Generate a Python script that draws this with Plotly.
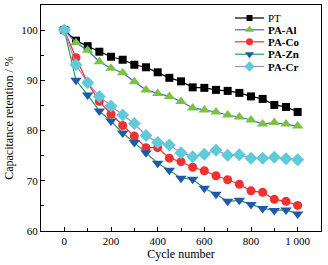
import plotly.graph_objects as go

cycles = [0, 50, 100, 150, 200, 250, 300, 350, 400, 450, 500, 550, 600, 650, 700, 750, 800, 850, 900, 950, 1000]
pt = [100, 97.9, 96.8, 95.7, 94.7, 94.1, 93.1, 92.6, 91.6, 90.5, 89.8, 88.6, 88.5, 88.1, 87.9, 87.5, 86.8, 86.3, 85.1, 84.7, 83.7]
pa_al = [100, 97.5, 96.0, 93.7, 92.4, 91.5, 89.7, 88.1, 87.4, 86.8, 85.8, 84.5, 84.1, 83.7, 83.1, 82.7, 82.1, 81.3, 81.6, 81.3, 80.9]
pa_co = [100, 94.5, 89.5, 85.8, 83.3, 81.0, 78.9, 76.6, 76.6, 74.5, 73.8, 72.7, 72.0, 71.0, 70.2, 69.3, 68.0, 67.7, 66.3, 65.9, 65.1]
pa_zn = [100, 90.0, 87.1, 83.9, 81.9, 79.5, 77.6, 75.6, 73.5, 72.1, 70.5, 70.3, 68.5, 67.3, 65.9, 66.1, 65.3, 64.5, 64.1, 64.2, 63.4]
pa_cr = [100, 93.1, 89.5, 86.8, 84.9, 83.1, 81.4, 79.0, 77.6, 77.1, 75.6, 74.8, 75.3, 76.1, 75.1, 75.2, 74.5, 74.5, 74.7, 74.4, 74.2]

series_names = ["PT", "PA-Al", "PA-Co", "PA-Zn", "PA-Cr"]
x_ticks = [0, 200, 400, 600, 800, 1000]
x_tick_labels = ["0", "200", "400", "600", "800", "1 000"]
y_ticks = [60, 70, 80, 90, 100]

styles = [
    ("black", "black", "square", 8, False),
    ("#2f6fd6", "#7cc242", "triangle-up", 10, True),
    ("#f23030", "#f23030", "circle", 9, True),
    ("#2a9d5c", "#1f5aa8", "triangle-down", 10, True),
    ("#a884d0", "#5fcbd8", "diamond", 10, True),
]
values = [pt, pa_al, pa_co, pa_zn, pa_cr]

fig = go.Figure()
for name, vals, (lc, mc, sym, sz, bold) in zip(series_names, values, styles):
    fig.add_trace(go.Scatter(
        x=cycles, y=vals, name=name, mode="lines+markers", showlegend=False,
        line=dict(color=lc, width=1.2),
        marker=dict(color=mc, symbol=sym, size=sz, line=dict(width=0)),
    ))

# custom compact legend drawn on an overlay axis in pixel-like units
leg_x0, leg_x1, leg_text_x = 235, 264, 266
leg_rows = [18, 29.8, 41.8, 54.2, 66.5]
annotations = []
for name, (lc, mc, sym, sz, bold), ly in zip(series_names, styles, leg_rows):
    fig.add_trace(go.Scatter(
        x=[leg_x0, (leg_x0 + leg_x1) / 2, leg_x1], y=[ly, ly, ly],
        xaxis="x2", yaxis="y2", mode="lines", showlegend=False, hoverinfo="skip",
        line=dict(color=lc, width=1.2),
    ))
    fig.add_trace(go.Scatter(
        x=[(leg_x0 + leg_x1) / 2], y=[ly],
        xaxis="x2", yaxis="y2", mode="markers", showlegend=False, hoverinfo="skip",
        marker=dict(color=mc, symbol=sym, size=sz - 2, line=dict(width=0)),
    ))
    annotations.append(dict(
        x=leg_text_x, y=ly, xref="x2", yref="y2", xanchor="left", yanchor="middle",
        text=f"<b>{name}</b>" if bold else name, showarrow=False,
        font=dict(family="Liberation Serif", size=11, color="black"),
    ))

font = dict(family="Liberation Serif", size=12, color="black")
tickfont = dict(family="Liberation Serif", size=11, color="black")
fig.update_layout(
    width=328, height=265,
    margin=dict(l=41, r=7, t=5, b=34),
    paper_bgcolor="white", plot_bgcolor="white",
    font=font,
    showlegend=False,
    annotations=annotations,
    xaxis=dict(range=[-100, 1100], tickvals=x_ticks, ticktext=x_tick_labels, automargin=False,
               showgrid=False, zeroline=False, showline=True, linecolor="black", linewidth=1.3,
               mirror=True, ticks="inside", ticklen=4, tickcolor="black", tickfont=tickfont,
               minor=dict(tickvals=[100, 300, 500, 700, 900], ticks="inside", ticklen=3, tickcolor="black"),
               title=dict(text="Cycle number", font=font, standoff=1)),
    yaxis=dict(range=[60, 105], tickvals=y_ticks, automargin=False,
               showgrid=False, zeroline=False, showline=True, linecolor="black", linewidth=1.3,
               mirror=True, ticks="inside", ticklen=4, tickcolor="black", tickfont=tickfont,
               minor=dict(tickvals=[65, 75, 85, 95], ticks="inside", ticklen=3, tickcolor="black"),
               title=dict(text="Capacitance retention / %", font=font, standoff=4)),
    xaxis2=dict(overlaying="x", range=[41, 321], visible=False, fixedrange=True),
    yaxis2=dict(overlaying="y", range=[231, 5], visible=False, fixedrange=True),
)

fig.write_html("out.html", config={"displayModeBar": False},
               post_script="document.body.style.margin='0';document.body.style.overflow='hidden';")
